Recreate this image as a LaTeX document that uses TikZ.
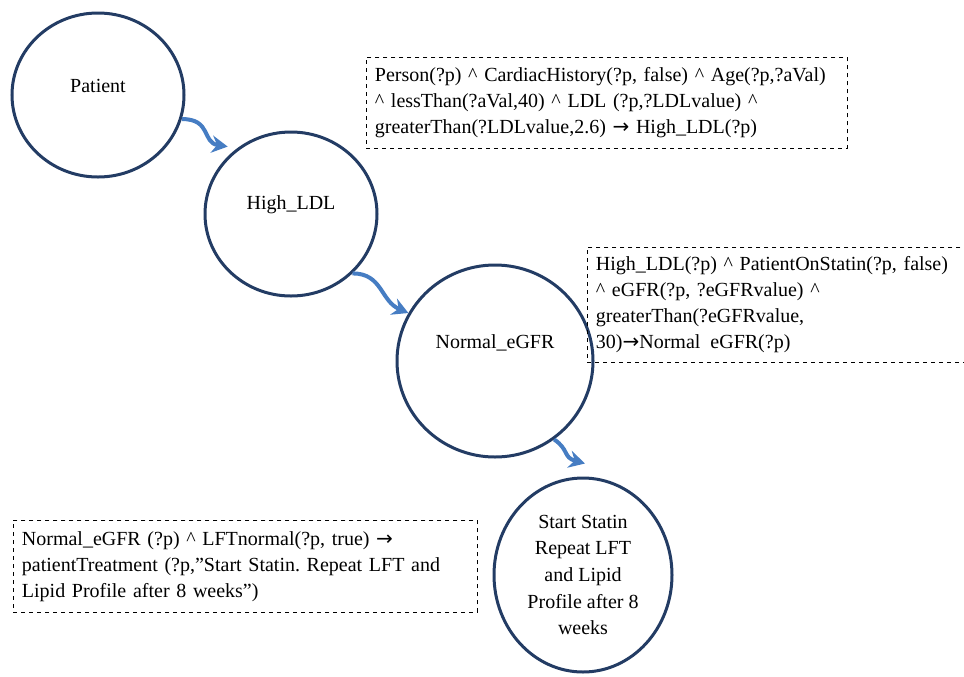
\documentclass[tikz,border=0pt]{standalone}
\usepackage{fontspec}
\setmainfont{Liberation Serif}
\newfontfamily\arrowfont{DejaVu Sans}
\usetikzlibrary{arrows.meta,shapes.geometric}
\definecolor{ringblue}{RGB}{35,60,100}
\definecolor{flowblue}{RGB}{70,125,195}

\begin{document}
\begin{tikzpicture}[x=0.75pt,y=-0.75pt,>={Stealth[length=12pt,width=13pt,inset=4pt]},
  bubble/.style={ellipse,draw=ringblue,line width=2.25pt,align=center,font=\fontsize{15}{20}\selectfont},
  rulebox/.style={draw,dashed,anchor=north west,align=left,inner xsep=6.5pt,font=\fontsize{15}{19.5}\selectfont},
  flow/.style={->,draw=flowblue,line width=3pt}]
\useasboundingbox (0,0) rectangle (964,676);
% states
\node[bubble,minimum width=129pt,minimum height=123pt] (patient) at (98,95) {\raisebox{6.75pt}[\height][\depth]{Patient}};
\node[bubble,minimum width=129pt,minimum height=123pt] (highldl) at (291,214) {\raisebox{6.75pt}[\height][\depth]{High\_LDL}};
\node[bubble,minimum width=147pt,minimum height=144pt] (normalegfr) at (495,361) {\raisebox{13.5pt}[\height][\depth]{Normal\_eGFR}};
\node[bubble,minimum width=133.5pt,minimum height=145.5pt] (statin) at (583,575) {Start Statin\\Repeat LFT\\and Lipid\\Profile after 8\\weeks};
% rules
\node[rulebox,text width=347.75pt,minimum height=68.25pt] (rulehigh) at (366,57) {Person(?p) \textasciicircum{} CardiacHistory(?p, false)\ \textasciicircum{} Age(?p,?aVal)\\ \textasciicircum{} lessThan(?aVal,40) \textasciicircum{} LDL (?p,?LDLvalue) \textasciicircum\\ greaterThan(?LDLvalue,2.6) {\arrowfont →} High\_LDL(?p)};
\node[rulebox,text width=272.75pt,minimum height=86.25pt] (rulenormal) at (587,247) {High\_LDL(?p) \textasciicircum{} PatientOnStatin(?p, false)\\ \textasciicircum{} eGFR(?p, ?eGFRvalue) \textasciicircum\\ greaterThan(?eGFRvalue,\\ 30){\arrowfont →}Normal\enspace eGFR(?p)};
\node[rulebox,text width=335pt,minimum height=69pt] (ruletreat) at (13,520) {Normal\_eGFR (?p) \textasciicircum{} LFTnormal(?p, true) {\arrowfont →}\\ patientTreatment (?p,”Start Statin.\ Repeat LFT and\\ Lipid Profile after 8 weeks”)};
% transitions
\draw[flow] (patient.-16) .. controls ([shift={(30,0)}]patient.-16) and ([shift={(-30,-10)}]highldl.134) .. ([shift={(-4,-6)}]highldl.134);
\draw[flow] (highldl.-44) .. controls ([shift={(30,0)}]highldl.-44) and ([shift={(-28,-12)}]normalegfr.151) .. (normalegfr.151);
\draw[flow] (normalegfr.-53) .. controls ([shift={(15,10)}]normalegfr.-53) and ([shift={(-20,-19)}]statin.north) .. ([shift={(2,-13)}]statin.north);
\end{tikzpicture}
\end{document}
